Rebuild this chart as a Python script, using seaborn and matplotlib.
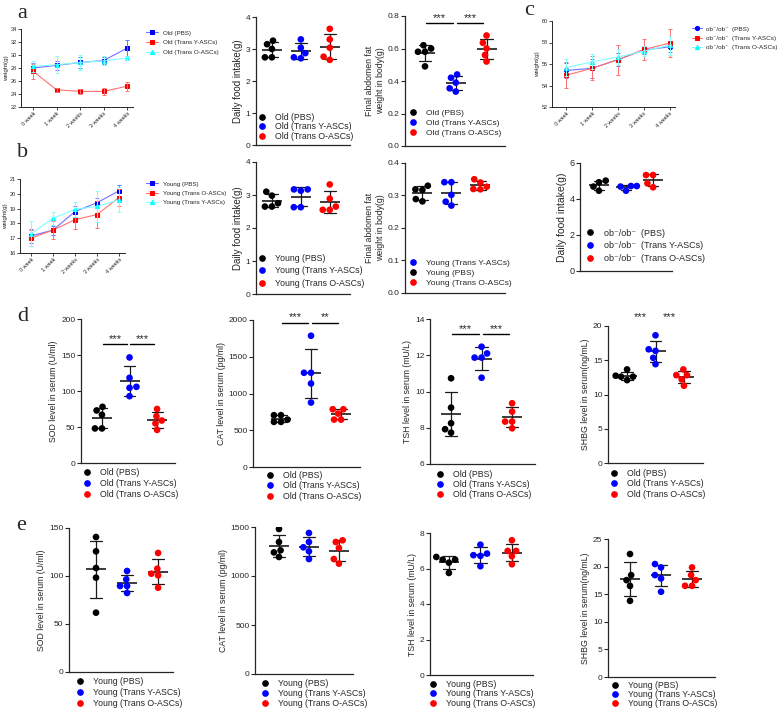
import warnings
import numpy as np
import pandas as pd
import matplotlib
matplotlib.use("Agg")
import matplotlib.pyplot as plt
from matplotlib.lines import Line2D
import seaborn as sns

warnings.filterwarnings("ignore")

# ---------------- data ----------------
weeks = ['0 week', '1 week', '2 weeks', '3 weeks', '4 weeks']

# panel a - body weight, old mice
a_pbs = [28.0, 28.4, 28.85, 29.15, 31.05]
a_pbs_err = [0.7, 0.65, 0.9, 0.6, 1.2]
a_ty = [27.5, 24.65, 24.4, 24.4, 25.2]
a_ty_err = [1.15, 0.3, 0.4, 0.5, 0.7]
a_to = [28.25, 28.5, 28.85, 29.1, 29.55]
a_to_err = [0.8, 1.3, 1.2, 0.7, 0.3]

# panel b - body weight, young mice
b_pbs = [17.15, 17.55, 18.8, 19.4, 20.2]
b_pbs_err = [0.45, 0.3, 0.35, 0.35, 0.4]
b_to = [17.0, 17.55, 18.25, 18.6, 19.75]
b_to_err = [0.55, 0.6, 0.6, 0.9, 0.6]
b_ty = [17.3, 18.35, 18.95, 19.15, 19.6]
b_ty_err = [0.85, 0.45, 0.5, 1.05, 0.85]

# panel c - body weight, ob/ob mice
c_pbs = [55.4, 55.6, 56.4, 57.3, 57.6]
c_pbs_err = [0.7, 0.9, 0.6, 0.4, 0.5]
c_ty = [54.95, 55.6, 56.4, 57.35, 57.95]
c_ty_err = [1.2, 1.1, 1.4, 1.0, 1.3]
c_to = [55.65, 56.2, 56.65, 57.2, 57.75]
c_to_err = [0.8, 0.7, 0.7, 0.5, 0.9]

# food intake / abdominal fat
a_food_pbs = [3.26, 3.15, 3.0, 2.74, 2.74]
a_food_ty = [3.30, 3.04, 2.87, 2.74, 2.71]
a_food_to = [3.63, 3.30, 3.04, 2.76, 2.66]
b_food_pbs = [3.10, 2.98, 2.75, 2.65, 2.65]
b_food_ty = [3.17, 3.17, 3.13, 2.63, 2.63]
b_food_to = [3.32, 2.89, 2.65, 2.55, 2.55]
a_fat_pbs = [0.62, 0.60, 0.58, 0.58, 0.49]
a_fat_ty = [0.44, 0.42, 0.39, 0.355, 0.335]
a_fat_to = [0.68, 0.635, 0.60, 0.56, 0.52]
b_fat_pbs = [0.330, 0.319, 0.317, 0.289, 0.282]
b_fat_ty = [0.341, 0.341, 0.302, 0.281, 0.269]
b_fat_to = [0.35, 0.34, 0.327, 0.32, 0.319]
c_food_pbs = [5.02, 4.93, 4.69, 4.46]
c_food_ty = [4.72, 4.72, 4.69, 4.46]
c_food_to = [5.33, 5.33, 4.87, 4.65]

# panel d - serum markers, old mice
d_sod = [[78, 73, 67, 48, 48], [146.6, 118.3, 105.8, 104.4, 92.8], [75, 65, 59, 55, 46]]
d_cat = [[705, 705, 645, 614, 614], [1786, 1282, 1282, 1136, 877], [786, 786, 727, 645, 645]]
d_tsh = [[10.73, 9.11, 8.25, 7.92, 7.73], [12.47, 12.1, 11.87, 11.87, 10.76], [9.35, 8.89, 8.34, 8.34, 7.97]]
d_shbg = [[13.66, 12.74, 12.6, 12.6, 12.1], [18.64, 16.6, 16.37, 15.35, 14.43], [13.66, 12.83, 12.83, 12.2, 11.28]]

# panel e - serum markers, young mice
e_sod = [[140.6, 125.7, 108.3, 98.3, 61.8], [105.2, 96.5, 89.6, 89.6, 82.3], [124, 107.6, 102.4, 100.7, 87.8]]
e_cat = [[1480, 1347, 1262, 1241, 1194], [1439, 1347, 1293, 1252, 1173], [1364, 1347, 1286, 1173, 1126]]
e_tsh = [[6.65, 6.5, 6.5, 6.33, 5.75], [7.34, 6.84, 6.75, 6.71, 6.13], [7.59, 6.99, 6.99, 6.69, 6.24]]
e_shbg = [[22.28, 18.46, 17.55, 16.5, 13.8], [20.46, 19.85, 18.46, 17.86, 15.44], [19.85, 18.46, 17.55, 16.52, 16.52]]

old_labels = ['Old (PBS)', 'Old (Trans Y-ASCs)', 'Old (Trans O-ASCs)']
young_labels = ['Young (PBS)', 'Young (Trans Y-ASCs)', 'Young (Trans O-ASCs)']
ob_labels = ['ob\u207b/ob\u207b  (PBS)', 'ob\u207b/ob\u207b  (Trans Y-ASCs)', 'ob\u207b/ob\u207b  (Trans O-ASCs)']
dot_colors = ['#000000', '#0000FF', '#FF0000']

# ---------------- style ----------------
sns.set_style('ticks')
plt.rcParams['font.family'] = ['Liberation Sans', 'DejaVu Sans']
plt.rcParams['axes.linewidth'] = 0.9

W, H = 784, 712
fig = plt.figure(figsize=(W / 100, H / 100), dpi=100)


def add_ax(l, t, r, b):
    return fig.add_axes([l / W, 1 - b / H, (r - l) / W, (b - t) / H])


def put_legend(ax, handles, labels, mx, my, fs, pitch, hl=1.0, pad=1.0):
    fs_px = fs * 100 / 72
    x0 = mx - hl * fs_px / 2
    y0 = my - fs_px * 0.6
    ls = max((pitch - fs_px * 1.15) / fs_px, 0)
    ax.legend(handles, labels, loc='upper left', bbox_to_anchor=(x0 / W, 1 - y0 / H),
              bbox_transform=fig.transFigure, frameon=False, fontsize=fs,
              borderpad=0, borderaxespad=0, handlelength=hl, handletextpad=pad,
              labelspacing=ls)


def line_panel(rect, xlim, series, ylim, yticks, leg, hl=1.8, pad=0.8):
    ax = add_ax(*rect)
    for vals, errs, lab, col, light, mk in series:
        sns.lineplot(x=weeks, y=vals, ax=ax, sort=False, color=light, linewidth=0.8,
                     marker=mk, markersize=3, markerfacecolor=col, markeredgecolor=col,
                     label=lab)
        ax.errorbar(weeks, vals, yerr=errs, fmt='none', ecolor=light, elinewidth=0.7,
                    capsize=1.5, capthick=0.7)
    ax.set_xlim(*xlim)
    ax.set_ylim(*ylim)
    ax.set_yticks(yticks)
    ax.set_ylabel('weight(g)', fontsize=4.5, labelpad=1)
    ax.tick_params(axis='both', labelsize=4, length=2, width=0.6, pad=1)
    plt.setp(ax.get_xticklabels(), rotation=45, ha='right', rotation_mode='anchor')
    for s in ['left', 'bottom']:
        ax.spines[s].set_linewidth(0.7)
    sns.despine(ax=ax)
    h, l = ax.get_legend_handles_labels()
    put_legend(ax, h, l, *leg, hl=hl, pad=pad)
    return ax


def dot_panel(rect, xlim, groups, labels, ylim, yticks, ylabel, leg, ylabel_fs=6.3,
              sig=None, leg_order=(0, 1, 2), tick_fs=6):
    ax = add_ax(*rect)
    df = pd.DataFrame({'group': [lab for lab, g in zip(labels, groups) for _ in g],
                       'value': [v for g in groups for v in g]})
    sns.swarmplot(data=df, x='group', y='value', hue='group', order=labels,
                  palette=dict(zip(labels, dot_colors)), size=4.8, ax=ax, legend=False)
    sns.pointplot(data=df, x='group', y='value', order=labels, errorbar='sd',
                  color='#1a1a1a', markers='_', markersize=15, markeredgewidth=1.2,
                  linestyle='none', capsize=0.4, err_kws={'linewidth': 0.9}, ax=ax)
    ax.set_xlim(*xlim)
    ax.set_ylim(*ylim)
    ax.set_yticks(yticks)
    ax.set_xticks([])
    ax.set_xlabel('')
    ax.set_ylabel(ylabel, fontsize=ylabel_fs, labelpad=2)
    ax.tick_params(axis='y', labelsize=tick_fs, length=3, width=0.8, pad=1)
    sns.despine(ax=ax)
    if sig:
        for x1, x2, y, txt in sig:
            ax.plot([x1 + 0.03, x2 - 0.1], [y, y], color='black', lw=1)
            ax.text((x1 + x2) / 2 - 0.03, y, txt, ha='center', va='bottom', fontsize=8)
    handles = [Line2D([], [], ls='none', marker='o', markersize=3.8, color=dot_colors[i])
               for i in leg_order]
    put_legend(ax, handles, [labels[i] for i in leg_order], *leg)
    return ax


# ---------------- line panels ----------------
line_panel((21, 29, 133, 107), (-0.51, 4.25),
           [(a_pbs, a_pbs_err, 'Old (PBS)', '#0000FF', '#7070FF', 's'),
            (a_ty, a_ty_err, 'Old (Trans Y-ASCs)', '#FF0000', '#FF7070', 's'),
            (a_to, a_to_err, 'Old (Trans O-ASCs)', '#00FFFF', '#80FFFF', '^')],
           (22, 34), np.arange(22, 35, 2), (152, 34, 4.5, 11.5))

line_panel((20, 179, 125, 253), (-0.5, 4.27),
           [(b_pbs, b_pbs_err, 'Young (PBS)', '#0000FF', '#7070FF', 's'),
            (b_to, b_to_err, 'Young (Trans O-ASCs)', '#FF0000', '#FF7070', 's'),
            (b_ty, b_ty_err, 'Young (Trans Y-ASCs)', '#00FFFF', '#80FFFF', '^')],
           (16, 21), np.arange(16, 22, 1), (152, 185, 4.5, 11))

line_panel((552, 21, 675, 107), (-0.54, 4.2),
           [(c_pbs, c_pbs_err, ob_labels[0], '#0000FF', '#7070FF', 'o'),
            (c_ty, c_ty_err, ob_labels[1], '#FF0000', '#FF7070', 's'),
            (c_to, c_to_err, ob_labels[2], '#00FFFF', '#80FFFF', '^')],
           (52, 60), np.arange(52, 61, 2), (697, 30, 4.6, 11), hl=1.6, pad=0.6)

# ---------------- food intake / fat ----------------
dot_panel((256, 17, 350, 145), (-0.55, 2.7), [a_food_pbs, a_food_ty, a_food_to], old_labels,
          (0, 4), [0, 1, 2, 3, 4], 'Daily food intake(g)', (262, 118, 6.3, 10.5), ylabel_fs=7)
dot_panel((405, 16, 505, 146), (-0.65, 2.6), [a_fat_pbs, a_fat_ty, a_fat_to], old_labels,
          (0, 0.8), [0, 0.2, 0.4, 0.6, 0.8], 'Final abdomen fat\nweight in body(g)',
          (413, 114, 6, 12), ylabel_fs=6.3,
          sig=[(0, 1, 0.755, '***'), (1, 2, 0.755, '***')])
dot_panel((256, 162, 350, 294), (-0.55, 2.7), [b_food_pbs, b_food_ty, b_food_to], young_labels,
          (0, 4), [0, 1, 2, 3, 4], 'Daily food intake(g)', (262, 259, 6.3, 13.5), ylabel_fs=7)
dot_panel((405, 163, 505, 293), (-0.6, 2.85), [b_fat_pbs, b_fat_ty, b_fat_to], young_labels,
          (0, 0.4), [0, 0.1, 0.2, 0.3, 0.4], 'Final abdomen fat\nweight in body(g)',
          (413, 264, 6, 12), ylabel_fs=6.3, leg_order=(1, 0, 2))
dot_panel((580, 163, 672, 271), (-0.7, 2.7), [c_food_pbs, c_food_ty, c_food_to], ob_labels,
          (0, 6), [0, 2, 4, 6], 'Daily food intake(g)', (590, 234, 6.5, 14), ylabel_fs=7.5,
          tick_fs=6.5)

# ---------------- panel d ----------------
dot_panel((81, 319, 175, 463), (-0.76, 2.65), d_sod, old_labels, (0, 200),
          np.arange(0, 201, 50), 'SOD level in serum (U/ml)', (87, 473, 6.3, 12),
          sig=[(0, 1, 165, '***'), (1, 2, 165, '***')])
dot_panel((253, 320, 360, 467), (-0.93, 2.63), d_cat, old_labels, (0, 2000),
          np.arange(0, 2001, 500), 'CAT level in serum (pg/ml)', (270, 476, 6.3, 11.5),
          sig=[(0, 1, 1965, '***'), (1, 2, 1965, '**')])
dot_panel((430, 319, 535, 464), (-0.69, 2.75), d_tsh, old_labels, (6, 14),
          np.arange(6, 15, 2), 'TSH level in serum (mU/L)', (440, 475, 6.3, 11),
          sig=[(0, 1, 13.17, '***'), (1, 2, 13.17, '***')])
dot_panel((608, 326, 703, 463), (-0.67, 2.67), d_shbg, old_labels, (0, 20),
          np.arange(0, 21, 5), 'SHBG level in serum(ng/mL)', (614, 474, 6.3, 11.5),
          sig=[(0, 1, 20.5, '***'), (1, 2, 20.5, '***')])

# ---------------- panel e ----------------
dot_panel((69, 528, 173, 672), (-0.87, 2.48), e_sod, young_labels, (0, 150),
          np.arange(0, 151, 50), 'SOD level in serum (U/ml)', (80, 682, 6.3, 12))
dot_panel((255, 527, 353, 674), (-0.8, 2.47), e_cat, young_labels, (0, 1500),
          np.arange(0, 1501, 500), 'CAT level in serum (pg/ml)', (265, 684, 6.3, 11))
dot_panel((430, 533, 533, 675), (-0.6, 2.67), e_tsh, young_labels, (0, 8),
          np.arange(0, 9, 2), 'TSH level in serum (mU/L)', (433, 685, 6.3, 10.5))
dot_panel((608, 539, 715, 677), (-0.71, 2.74), e_shbg, young_labels, (0, 25),
          np.arange(0, 26, 5), 'SHBG level in serum(ng/mL)', (615, 686, 6.3, 10))

# panel letters
for letter, x, y in [('a', 17, 18), ('b', 17, 157), ('c', 524, 15), ('d', 17, 321), ('e', 16, 530)]:
    fig.text(x / W, 1 - y / H, letter, fontsize=16, family='Liberation Serif', va='baseline')

fig.savefig('out.png', dpi=100)
